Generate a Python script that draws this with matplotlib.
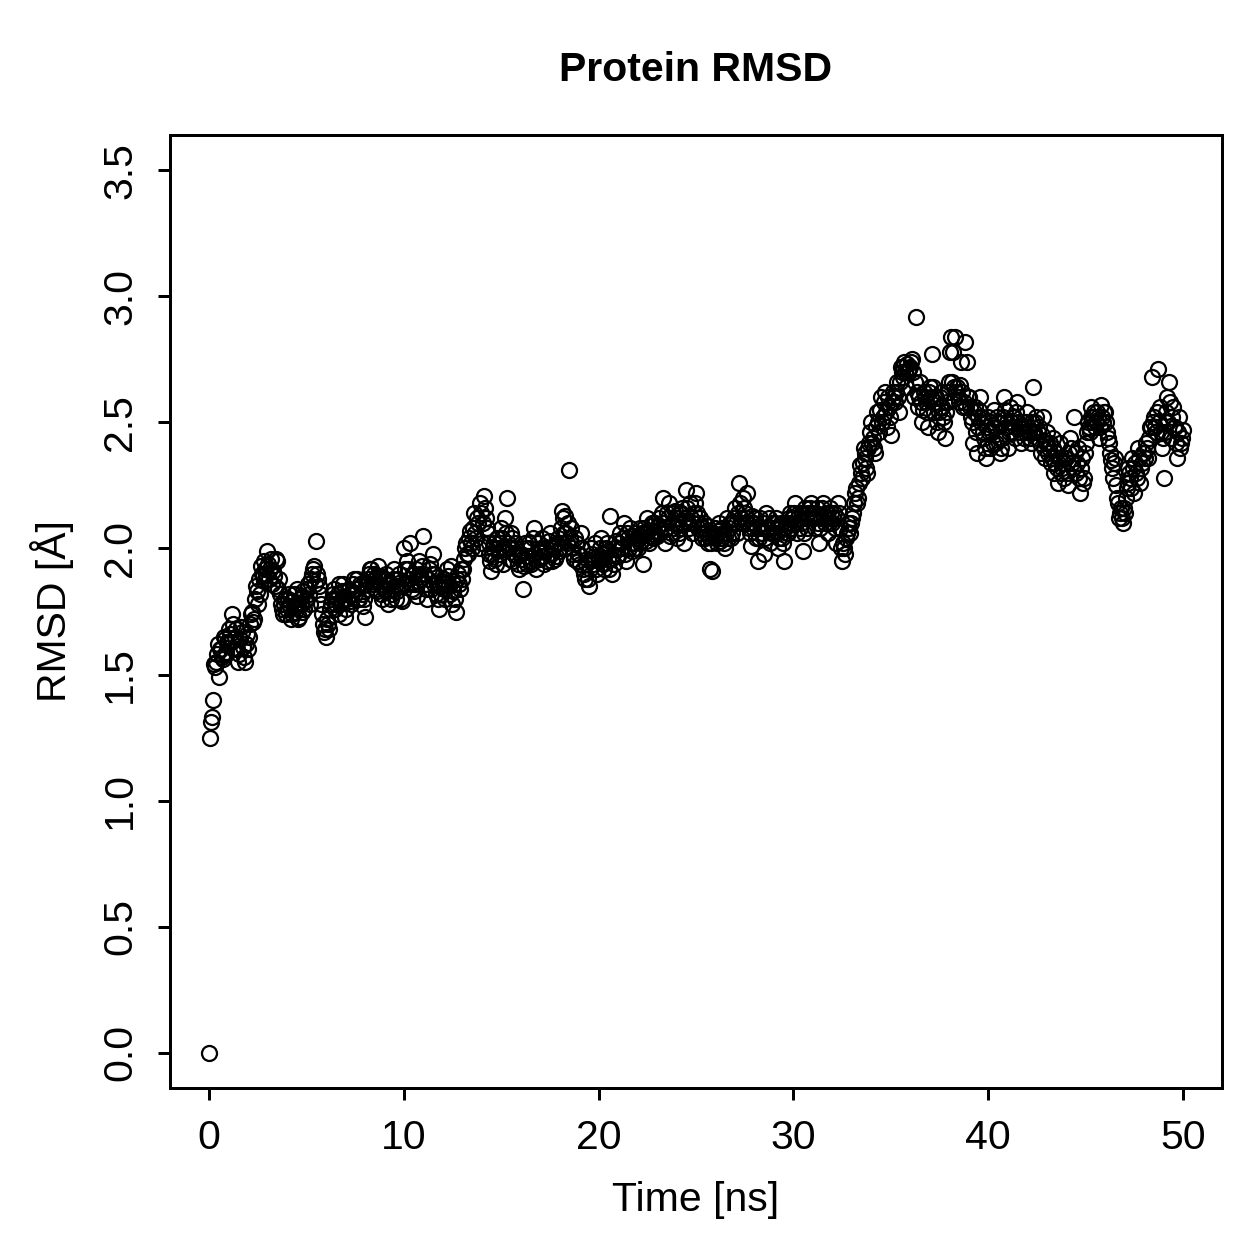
import numpy as np
import matplotlib
matplotlib.use("Agg")
import matplotlib.pyplot as plt

plt.rcParams['font.family'] = ['Liberation Sans', 'DejaVu Sans']

# RMSD, one row per ns, frames at t = 0.0, 0.1, ... 50.0
rmsd = [
    0.00, 1.31, 1.40, 1.53, 1.58, 1.49, 1.60, 1.56, 1.64, 1.58,
    1.62, 1.66, 1.74, 1.60, 1.68, 1.55, 1.64, 1.67, 1.57, 1.62,
    1.60, 1.70, 1.75, 1.72, 1.85, 1.78, 1.82, 1.90, 1.87, 1.92,
    1.99, 1.88, 1.96, 1.91, 1.85, 1.95, 1.88, 1.78, 1.74, 1.80,
    1.76, 1.82, 1.72, 1.79, 1.75, 1.84, 1.73, 1.78, 1.81, 1.76,
    1.80, 1.86, 1.78, 1.90, 1.93, 2.03, 1.88, 1.82, 1.74, 1.67,
    1.65, 1.70, 1.76, 1.80, 1.84, 1.78, 1.82, 1.74, 1.79, 1.86,
    1.73, 1.80, 1.84, 1.78, 1.86, 1.82, 1.88, 1.80, 1.85, 1.77,
    1.73, 1.84, 1.90, 1.92, 1.86, 1.88, 1.83, 1.93, 1.89, 1.80,
    1.84, 1.90, 1.78, 1.86, 1.82, 1.92, 1.80, 1.88, 1.85, 1.79,
    2.00, 1.86, 1.92, 2.02, 1.84, 1.90, 1.86, 1.81, 1.95, 1.88,
    2.05, 1.86, 1.80, 1.92, 1.84, 1.98, 1.90, 1.86, 1.76, 1.82,
    1.88, 1.80, 1.92, 1.85, 1.93, 1.78, 1.86, 1.75, 1.90, 1.84,
    1.88, 1.96, 2.02, 1.98, 2.07, 2.00, 2.14, 2.04, 2.10, 2.18,
    2.02, 2.21, 2.12, 2.06, 1.98, 1.91, 2.00, 1.96, 2.04, 1.98,
    2.08, 1.94, 2.12, 2.20, 2.00, 2.06, 1.95, 2.02, 1.97, 1.92,
    1.98, 1.84, 2.02, 1.94, 1.97, 2.00, 1.95, 2.08, 1.92, 2.02,
    1.96, 2.04, 1.94, 2.00, 1.98, 2.06, 1.95, 2.01, 1.97, 2.04,
    2.00, 2.15, 2.06, 2.13, 2.02, 2.31, 2.08, 1.98, 2.04, 1.95,
    1.98, 2.06, 1.92, 1.88, 1.96, 1.85, 2.00, 1.94, 2.02, 1.90,
    1.95, 2.04, 1.98, 1.92, 2.00, 1.96, 2.13, 1.90, 1.94, 2.03,
    1.97, 2.06, 2.00, 2.10, 1.95, 2.04, 2.08, 1.99, 2.02, 2.06,
    2.00, 2.08, 2.03, 1.94, 2.06, 2.12, 2.02, 2.09, 2.04, 2.10,
    2.05, 2.12, 2.08, 2.20, 2.02, 2.14, 2.18, 2.06, 2.10, 2.15,
    2.04, 2.12, 2.08, 2.16, 2.02, 2.23, 2.10, 2.18, 2.06, 2.14,
    2.22, 2.08, 2.12, 2.04, 2.10, 2.06, 2.02, 1.92, 1.91, 2.05,
    2.08, 2.02, 2.10, 2.04, 2.06, 2.00, 2.12, 2.08, 2.04, 2.10,
    2.16, 2.06, 2.26, 2.12, 2.20, 2.14, 2.22, 2.08, 2.01, 2.13,
    2.10, 2.04, 1.95, 2.12, 2.06, 1.98, 2.14, 2.08, 2.02, 2.10,
    2.06, 2.12, 2.00, 2.08, 2.04, 1.95, 2.10, 2.06, 2.14, 2.08,
    2.12, 2.18, 2.06, 2.14, 2.10, 1.99, 2.16, 2.08, 2.12, 2.18,
    2.14, 2.08, 2.16, 2.02, 2.12, 2.18, 2.10, 2.14, 2.06, 2.16,
    2.10, 2.14, 2.02, 2.18, 2.08, 1.95, 2.00, 2.04, 2.10, 2.06,
    2.12, 2.18, 2.24, 2.20, 2.33, 2.28, 2.40, 2.36, 2.30, 2.42,
    2.50, 2.44, 2.38, 2.54, 2.46, 2.60, 2.52, 2.62, 2.48, 2.56,
    2.45, 2.62, 2.58, 2.66, 2.54, 2.72, 2.68, 2.74, 2.64, 2.70,
    2.72, 2.75, 2.60, 2.92, 2.56, 2.66, 2.50, 2.62, 2.58, 2.48,
    2.64, 2.77, 2.54, 2.60, 2.46, 2.56, 2.62, 2.52, 2.44, 2.58,
    2.66, 2.84, 2.78, 2.84, 2.64, 2.58, 2.74, 2.56, 2.82, 2.74,
    2.60, 2.52, 2.42, 2.56, 2.38, 2.48, 2.60, 2.52, 2.44, 2.36,
    2.52, 2.40, 2.46, 2.55, 2.42, 2.50, 2.38, 2.44, 2.60, 2.48,
    2.40, 2.56, 2.46, 2.52, 2.44, 2.58, 2.48, 2.42, 2.50, 2.46,
    2.54, 2.46, 2.42, 2.64, 2.50, 2.44, 2.48, 2.38, 2.52, 2.36,
    2.46, 2.40, 2.34, 2.44, 2.30, 2.38, 2.26, 2.42, 2.32, 2.28,
    2.36, 2.25, 2.44, 2.34, 2.52, 2.30, 2.40, 2.22, 2.36, 2.28,
    2.42, 2.50, 2.46, 2.56, 2.52, 2.48, 2.54, 2.44, 2.57, 2.50,
    2.54, 2.46, 2.42, 2.35, 2.28, 2.36, 2.20, 2.12, 2.16, 2.10,
    2.14, 2.24, 2.32, 2.28, 2.36, 2.22, 2.30, 2.40, 2.26, 2.34,
    2.38, 2.42, 2.36, 2.48, 2.68, 2.52, 2.46, 2.71, 2.56, 2.40,
    2.28, 2.50, 2.60, 2.66, 2.44, 2.56, 2.48, 2.36, 2.52, 2.42,
    2.47,
]

# frames in between, at t = 0.05, 0.15, ... 49.95
rmsd_mid = [
    1.25, 1.33, 1.54, 1.55, 1.62, 1.60, 1.57, 1.65, 1.59, 1.63,
    1.68, 1.63, 1.70, 1.65, 1.60, 1.58, 1.69, 1.61, 1.55, 1.66,
    1.65, 1.74, 1.71, 1.80, 1.83, 1.88, 1.93, 1.89, 1.95, 1.90,
    1.94, 1.92, 1.86, 1.89, 1.96, 1.84, 1.82, 1.76, 1.78, 1.74,
    1.80, 1.77, 1.74, 1.82, 1.78, 1.72, 1.80, 1.75, 1.83, 1.79,
    1.84, 1.82, 1.88, 1.92, 1.86, 1.90, 1.85, 1.78, 1.70, 1.68,
    1.72, 1.68, 1.78, 1.82, 1.76, 1.80, 1.86, 1.78, 1.83, 1.80,
    1.76, 1.83, 1.79, 1.82, 1.88, 1.84, 1.80, 1.86, 1.82, 1.80,
    1.86, 1.88, 1.92, 1.87, 1.90, 1.84, 1.89, 1.86, 1.82, 1.87,
    1.88, 1.83, 1.86, 1.80, 1.88, 1.85, 1.83, 1.90, 1.80, 1.86,
    1.92, 1.95, 1.88, 1.86, 1.90, 1.83, 1.92, 1.87, 1.90, 1.93,
    1.90, 1.84, 1.88, 1.94, 1.90, 1.86, 1.82, 1.80, 1.85, 1.87,
    1.84, 1.86, 1.89, 1.82, 1.87, 1.83, 1.80, 1.88, 1.86, 1.92,
    1.92, 2.00, 1.98, 2.04, 2.02, 2.08, 2.06, 2.12, 2.00, 2.14,
    2.10, 2.16, 2.08, 2.02, 1.95, 1.98, 2.02, 1.94, 2.00, 2.02,
    2.04, 2.00, 2.06, 2.02, 1.96, 2.04, 1.98, 2.00, 1.94, 1.98,
    1.96, 1.93, 2.00, 1.97, 2.02, 1.94, 2.04, 1.98, 1.96, 1.99,
    2.00, 1.97, 1.99, 1.95, 2.03, 1.98, 2.00, 1.96, 2.02, 1.99,
    2.08, 2.12, 2.00, 2.06, 2.10, 2.04, 2.00, 1.96, 2.02, 1.98,
    1.94, 2.00, 1.90, 1.94, 1.88, 1.92, 1.98, 1.96, 1.92, 1.97,
    2.00, 1.96, 1.94, 1.98, 2.02, 1.92, 1.96, 1.98, 2.00, 1.97,
    2.02, 2.00, 2.04, 1.98, 2.06, 2.00, 2.02, 2.05, 2.00, 2.04,
    2.04, 2.02, 2.06, 2.08, 2.03, 2.07, 2.05, 2.10, 2.07, 2.05,
    2.09, 2.06, 2.14, 2.10, 2.08, 2.12, 2.05, 2.14, 2.08, 2.12,
    2.10, 2.06, 2.14, 2.10, 2.12, 2.16, 2.08, 2.12, 2.10, 2.18,
    2.14, 2.10, 2.06, 2.08, 2.04, 2.09, 2.05, 2.02, 2.06, 2.04,
    2.05, 2.07, 2.03, 2.08, 2.02, 2.06, 2.04, 2.10, 2.06, 2.12,
    2.10, 2.14, 2.18, 2.10, 2.16, 2.12, 2.10, 2.06, 2.10, 2.08,
    2.12, 2.08, 2.04, 2.08, 2.10, 2.04, 2.08, 2.12, 2.06, 2.08,
    2.10, 2.06, 2.04, 2.10, 2.02, 2.08, 2.06, 2.12, 2.10, 2.12,
    2.14, 2.10, 2.12, 2.08, 2.14, 2.06, 2.12, 2.14, 2.16, 2.12,
    2.12, 2.14, 2.10, 2.08, 2.16, 2.12, 2.14, 2.12, 2.10, 2.14,
    2.12, 2.08, 2.12, 2.14, 2.00, 2.02, 1.98, 2.06, 2.08, 2.10,
    2.14, 2.22, 2.18, 2.26, 2.30, 2.34, 2.38, 2.32, 2.40, 2.46,
    2.42, 2.40, 2.48, 2.50, 2.55, 2.50, 2.58, 2.54, 2.60, 2.52,
    2.58, 2.60, 2.62, 2.60, 2.66, 2.70, 2.72, 2.70, 2.73, 2.71,
    2.74, 2.70, 2.66, 2.62, 2.60, 2.58, 2.55, 2.60, 2.54, 2.62,
    2.60, 2.64, 2.58, 2.50, 2.54, 2.60, 2.56, 2.50, 2.54, 2.62,
    2.78, 2.66, 2.64, 2.62, 2.60, 2.65, 2.62, 2.58, 2.56, 2.60,
    2.56, 2.50, 2.54, 2.46, 2.52, 2.55, 2.50, 2.46, 2.40, 2.48,
    2.46, 2.50, 2.42, 2.48, 2.52, 2.44, 2.40, 2.52, 2.55, 2.50,
    2.46, 2.50, 2.52, 2.48, 2.54, 2.50, 2.46, 2.48, 2.44, 2.50,
    2.48, 2.44, 2.50, 2.46, 2.52, 2.46, 2.42, 2.45, 2.40, 2.42,
    2.38, 2.42, 2.36, 2.40, 2.34, 2.32, 2.36, 2.30, 2.34, 2.36,
    2.30, 2.38, 2.40, 2.32, 2.38, 2.34, 2.28, 2.32, 2.26, 2.38,
    2.46, 2.48, 2.52, 2.50, 2.54, 2.50, 2.52, 2.48, 2.52, 2.54,
    2.50, 2.44, 2.38, 2.32, 2.34, 2.25, 2.18, 2.14, 2.12, 2.16,
    2.20, 2.26, 2.30, 2.24, 2.32, 2.34, 2.28, 2.36, 2.32, 2.38,
    2.36, 2.40, 2.44, 2.48, 2.50, 2.48, 2.54, 2.50, 2.46, 2.44,
    2.46, 2.54, 2.50, 2.58, 2.52, 2.48, 2.42, 2.46, 2.40, 2.44,
]

time = np.concatenate([np.linspace(0, 50, len(rmsd)),
                       np.linspace(0.05, 49.95, len(rmsd_mid))])
values = np.concatenate([rmsd, rmsd_mid])

xticks = [0, 10, 20, 30, 40, 50]
yticks = [0.0, 0.5, 1.0, 1.5, 2.0, 2.5, 3.0, 3.5]

W = 1259
fig = plt.figure(figsize=(W / 180, W / 180), dpi=180)
ax = fig.add_axes([170 / W, 1 - 1088 / W, (1222 - 170) / W, (1088 - 135) / W])

ax.plot(time, values, linestyle='none', marker='o', markersize=6.0,
        markerfacecolor='none', markeredgecolor='black', markeredgewidth=0.9)

ax.set_xlim(-2, 52)
ax.set_ylim(-0.14, 3.64)
ax.set_xticks(xticks)
ax.set_xticklabels([str(v) for v in xticks])
ax.set_yticks(yticks)
ax.set_yticklabels(['%.1f' % v for v in yticks], rotation=90, va='center')

for s in ax.spines.values():
    s.set_linewidth(1.2)
ax.tick_params(direction='out', length=4.8, width=1.2, labelsize=16.4, pad=7.5)

fig.text(696 / W, 1 - 70 / W, 'Protein RMSD', ha='center', va='center',
         fontsize=16.4, fontweight='bold')
fig.text(696 / W, 1 - 1200 / W, 'Time [ns]', ha='center', va='center', fontsize=16.4)
fig.text(52 / W, 1 - 611 / W, 'RMSD [Å]', ha='center', va='center', fontsize=16.4,
         rotation=90)

fig.savefig('out.png', dpi=180)
